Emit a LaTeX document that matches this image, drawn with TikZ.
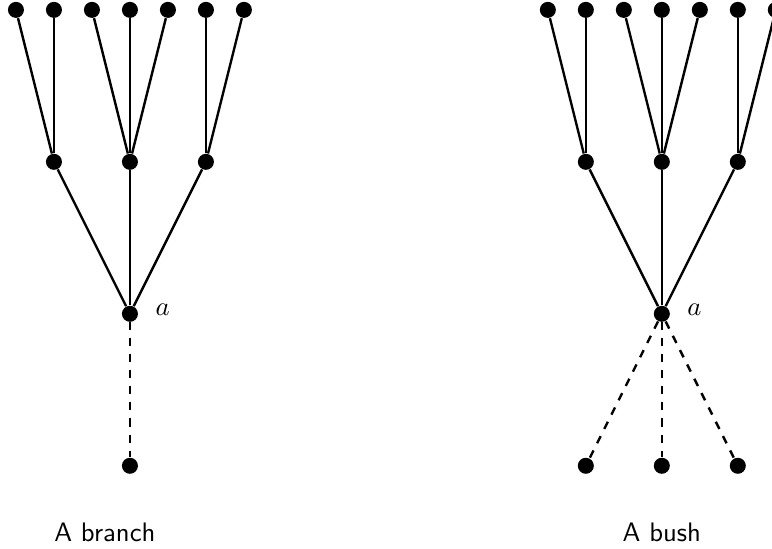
\documentclass[tikz,border=0pt]{standalone}
\usepackage{tikz}
\usetikzlibrary{positioning}

\begin{document}
\begin{tikzpicture}[vertex/.style={circle,fill=black,inner sep=0pt,minimum size=6pt},
  edge/.style={line width=0.9pt},
  dashedge/.style={line width=0.9pt,dashed}]
\useasboundingbox (-1.71,-3.09) rectangle (8.45,4.13);

% A branch
\node[vertex] (a) at (0,0) {};
\node[right=0.1cm of a,yshift=0.05cm] (alab) {$a$};
\node[vertex] (m1) at (-1,2) {};
\node[vertex] (m2) at (0,2) {};
\node[vertex] (m3) at (1,2) {};
\node[vertex] (l1) at (-1.5,4) {};
\node[vertex] (l2) at (-1,4) {};
\node[vertex] (l3) at (-0.5,4) {};
\node[vertex] (l4) at (0,4) {};
\node[vertex] (l5) at (0.5,4) {};
\node[vertex] (l6) at (1,4) {};
\node[vertex] (l7) at (1.5,4) {};
\node[vertex] (d) at (0,-2) {};

\draw[edge] (a) -- (m1);
\draw[edge] (a) -- (m2);
\draw[edge] (a) -- (m3);
\draw[edge] (m1) -- (l1);
\draw[edge] (m1) -- (l2);
\draw[edge] (m2) -- (l3);
\draw[edge] (m2) -- (l4);
\draw[edge] (m2) -- (l5);
\draw[edge] (m3) -- (l6);
\draw[edge] (m3) -- (l7);
\draw[dashedge] (a) -- (d);

\node (cap1) at (-0.33,-2.88) {\sffamily A branch};

% A bush
\node[vertex] (b) at (7,0) {};
\node[right=0.1cm of b,yshift=0.05cm] (blab) {$a$};
\node[vertex] (n1) at (6,2) {};
\node[vertex] (n2) at (7,2) {};
\node[vertex] (n3) at (8,2) {};
\node[vertex] (k1) at (5.5,4) {};
\node[vertex] (k2) at (6,4) {};
\node[vertex] (k3) at (6.5,4) {};
\node[vertex] (k4) at (7,4) {};
\node[vertex] (k5) at (7.5,4) {};
\node[vertex] (k6) at (8,4) {};
\node[vertex] (k7) at (8.5,4) {};
\node[vertex] (e1) at (6,-2) {};
\node[vertex] (e2) at (7,-2) {};
\node[vertex] (e3) at (8,-2) {};

\draw[edge] (b) -- (n1);
\draw[edge] (b) -- (n2);
\draw[edge] (b) -- (n3);
\draw[edge] (n1) -- (k1);
\draw[edge] (n1) -- (k2);
\draw[edge] (n2) -- (k3);
\draw[edge] (n2) -- (k4);
\draw[edge] (n2) -- (k5);
\draw[edge] (n3) -- (k6);
\draw[edge] (n3) -- (k7);
\draw[dashedge] (b) -- (e1);
\draw[dashedge] (b) -- (e2);
\draw[dashedge] (b) -- (e3);

\node (cap2) at (7,-2.88) {\sffamily A bush};
\end{tikzpicture}
\end{document}
